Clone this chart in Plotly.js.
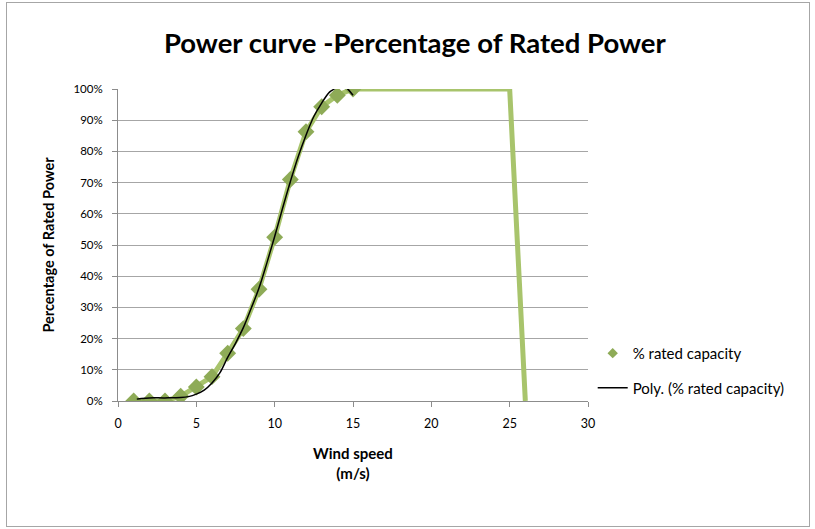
<!DOCTYPE html>
<html>
<head>
<meta charset="utf-8">
<script src="https://cdn.plot.ly/plotly-3.0.1.min.js"></script>
<style>
  html, body { margin: 0; padding: 0; background: #ffffff; }
  #wrap { position: relative; width: 815px; height: 529px; }
  #chart { width: 815px; height: 529px; }
  #frame { position: absolute; left: 6px; top: 2px; width: 804px; height: 525px;
           border: 1px solid #a6a6a6; pointer-events: none; box-sizing: border-box; }
</style>
</head>
<body>
<div id="wrap">
  <div id="chart"></div>
  <div id="frame"></div>
</div>
<script>
// Data points: wind speed (m/s) and fraction of rated power
const windSpeed = [1, 2, 3, 4, 5, 6, 7, 8, 9, 10, 11, 12, 13, 14, 15];
const ratedPct  = [0, 0, 0, 0.015, 0.045, 0.078, 0.153, 0.232, 0.358, 0.525, 0.71, 0.863, 0.943, 0.98, 1.0];

// Line of the series continues flat to cut-out then drops
const lineSpeed = [1, 2, 3, 4, 5, 6, 7, 8, 9, 10, 11, 12, 13, 14, 15, 25, 26];
const linePct   = [0, 0, 0, 0.015, 0.045, 0.078, 0.153, 0.232, 0.358, 0.525, 0.71, 0.863, 0.943, 0.98, 1.0, 1.0, 0];

// Polynomial trendline
const polySpeed = [1.2, 1.5, 2, 3, 4, 4.5, 5, 5.5, 6, 6.5, 7, 7.5, 8, 8.5, 9, 9.5, 10, 10.5, 11, 11.5, 12, 12.5, 13, 13.5, 13.8, 14.1, 14.4, 14.7, 15];
const polyPct   = [0.006, 0.008, 0.01, 0.01, 0.011, 0.014, 0.022, 0.035, 0.058, 0.09, 0.14, 0.185, 0.235, 0.297, 0.362, 0.442, 0.527, 0.617, 0.703, 0.783, 0.852, 0.912, 0.955, 0.99, 1.0, 1.012, 1.012, 0.998, 0.98];

const xTicks = [0, 5, 10, 15, 20, 25, 30];
const yTicks = [0, 0.1, 0.2, 0.3, 0.4, 0.5, 0.6, 0.7, 0.8, 0.9, 1.0];

const font = "Lato, 'Open Sans', sans-serif";

const traces = [
  {
    x: lineSpeed, y: linePct, type: 'scatter', mode: 'lines',
    line: { color: '#a8c46c', width: 5 },
    showlegend: false, hoverinfo: 'skip'
  },
  {
    x: windSpeed, y: ratedPct, type: 'scatter', mode: 'markers',
    name: '% rated capacity', showlegend: false,
    marker: { symbol: 'diamond', size: 13, color: '#8eab57' }
  },
  {
    // legend entry for the marker series (small legend symbol)
    x: [null], y: [null], type: 'scatter', mode: 'markers',
    name: '% rated capacity', legendgroup: 'a',
    marker: { symbol: 'diamond', size: 8, color: '#8eab57' }
  },
  {
    x: polySpeed, y: polyPct, type: 'scatter', mode: 'lines',
    name: 'Poly. (% rated capacity)', legendgroup: 'b',
    line: { color: '#000000', width: 1.5, shape: 'spline' }
  }
];

const layout = {
  width: 815, height: 529,
  margin: { l: 118, r: 227, t: 89, b: 128 },
  paper_bgcolor: '#ffffff', plot_bgcolor: '#ffffff',
  font: { family: font, color: '#000000', size: 12 },
  title: {
    text: '<b>Power curve -Percentage of Rated Power</b>',
    font: { family: font, size: 27.5, color: '#000000' },
    x: 0.509, xanchor: 'center', y: 0.918, yanchor: 'middle'
  },
  xaxis: {
    range: [0, 30], tickvals: xTicks, ticktext: xTicks.map(String),
    showgrid: false, zeroline: false,
    showline: true, linecolor: '#8c8c8c', linewidth: 1,
    ticks: 'outside', ticklen: 5, tickcolor: '#8c8c8c',
    tickfont: { family: font, size: 12.5 },
    ticklabelstandoff: 6,
    title: { text: '<b>Wind speed</b><br><b>(m/s)</b>', font: { family: font, size: 15 }, standoff: 18 }
  },
  yaxis: {
    range: [0, 1], tickvals: yTicks, tickformat: '.0%',
    showgrid: true, gridcolor: '#a6a6a6', gridwidth: 1, zeroline: false,
    showline: true, linecolor: '#8c8c8c', linewidth: 1,
    ticks: 'outside', ticklen: 5, tickcolor: '#8c8c8c',
    tickfont: { family: font, size: 11.5 },
    ticklabelstandoff: 7,
    title: { text: '<b>Percentage of Rated Power</b>', font: { family: font, size: 14.5 }, standoff: 15 }
  },
  legend: {
    x: 1.01, xanchor: 'left', y: 0.098, yanchor: 'middle',
    font: { family: font, size: 15 },
    bgcolor: 'rgba(0,0,0,0)', tracegroupgap: 12,
    traceorder: 'grouped', itemwidth: 30
  },
  showlegend: true
};

Plotly.newPlot('chart', traces, layout, { displayModeBar: false, staticPlot: true });
</script>
</body>
</html>
